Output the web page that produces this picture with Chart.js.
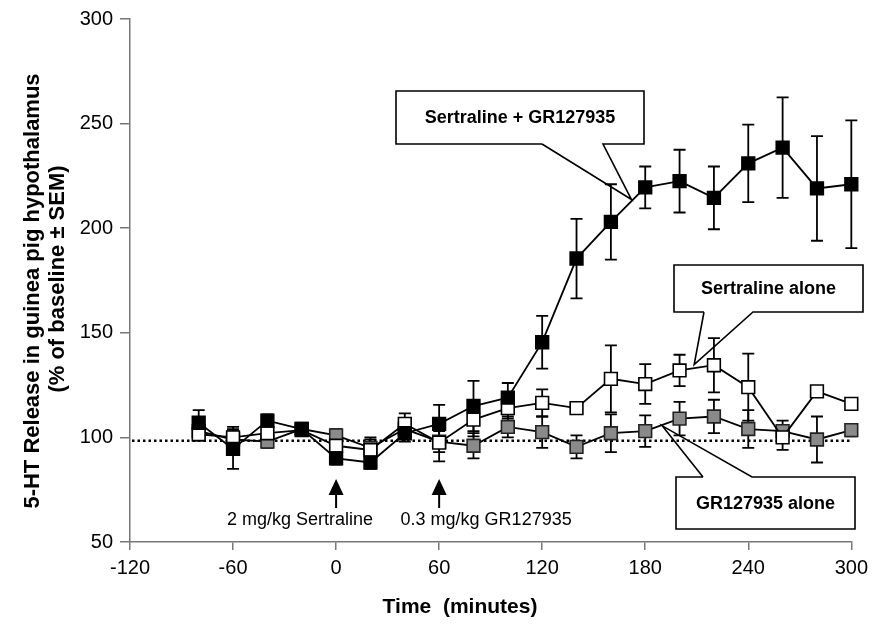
<!DOCTYPE html>
<html>
<head>
<meta charset="utf-8">
<script src="https://cdn.jsdelivr.net/npm/chart.js@4.4.0/dist/chart.umd.min.js"></script>
<style>
  html, body { margin: 0; padding: 0; background: #fff; }
</style>
</head>
<body>
<canvas id="releaseChart" width="874" height="629"></canvas>
<script>
const times = [-80, -60, -40, -20, 0, 20, 40, 60, 80, 100, 120, 140, 160, 180, 200, 220, 240, 260, 280, 300];

// Sertraline + GR127935
const comboMean = [107, 94.5, 108, 104, 90, 88, 102, 106.5, 115, 119, 145.5, 185.5, 203, 219.5, 222.5, 214.5, 231, 238.5, 219, 221];
const comboSem = [6, 9.5, 3, 2, 3, 3, 4, 9, 12, 7, 12.6, 19, 18, 10, 15, 15, 18.5, 24, 25, 30.5];

// Sertraline alone
const sertMean = [101.5, 100, 102, 103.5, 96, 94, 106.5, 97.5, 108.5, 114, 116.5, 114, 128, 125.5, 132, 134.5, 124, 100, 122, 116];
const sertSem = [3, 5, 3, 2, 3, 6, 5, 9, 8, 5, 6.5, 2, 16, 9.5, 7.5, 13, 16, 6, 2, 2];

// GR127935 alone
const grMean = [103, 99, 98, 104, 101, 95, 104, 98, 96, 105, 102.5, 95.5, 102, 103, 109, 110, 104, 103, 99, 103.5];
const grSem = [3, 4, 3, 2, 3, 4, 4, 5, 6, 5, 7.5, 5.5, 9, 7.5, 8, 8, 9, 5, 11, 3];

const xTicks = [-120, -60, 0, 60, 120, 180, 240, 300];
const yTicks = [50, 100, 150, 200, 250, 300];
const baseline = 98.4;

const toPoints = (means, sems) => times.map((t, i) => ({ x: t, y: means[i], sem: sems[i] }));

// callout boxes: box corners, base of the pointer on the box edge, and the point it aims at (data units)
const callouts = [
  { text: 'Sertraline + GR127935', box: [396, 91, 644, 144], base: [[542, 144], [603, 144]], tip: { x: 172, y: 213.7 } },
  { text: 'Sertraline alone', box: [674, 265, 863, 312], base: [[704, 312], [753, 312]], tip: { x: 208.5, y: 134.8 } },
  { text: 'GR127935 alone', box: [676, 477, 855, 529], base: [[703, 477], [752, 477]], tip: { x: 190, y: 105.5 } }
];

const doses = [
  { time: 0, label: '2 mg/kg Sertraline', dx: -36 },
  { time: 60, label: '0.3 mg/kg GR127935', dx: 47 }
];

const errorBars = {
  id: 'errorBars',
  beforeDatasetsDraw(chart) {
    const { ctx, chartArea } = chart;
    const xs = chart.scales.x, ys = chart.scales.y;

    // baseline
    ctx.save();
    ctx.strokeStyle = '#000';
    ctx.lineWidth = 2.5;
    ctx.setLineDash([2.5, 3]);
    ctx.beginPath();
    ctx.moveTo(chartArea.left + 2, ys.getPixelForValue(baseline));
    ctx.lineTo(chartArea.right, ys.getPixelForValue(baseline));
    ctx.stroke();
    ctx.restore();

    ctx.save();
    ctx.strokeStyle = '#000';
    ctx.lineWidth = 1.8;
    for (let d = chart.data.datasets.length - 1; d >= 0; d--) {
      chart.data.datasets[d].data.forEach(p => {
        const x = xs.getPixelForValue(p.x);
        const top = ys.getPixelForValue(p.y + p.sem);
        const bot = ys.getPixelForValue(p.y - p.sem);
        ctx.beginPath();
        ctx.moveTo(x, top); ctx.lineTo(x, bot);
        ctx.moveTo(x - 6, top); ctx.lineTo(x + 6, top);
        ctx.moveTo(x - 6, bot); ctx.lineTo(x + 6, bot);
        ctx.stroke();
      });
    }
    ctx.restore();
  },
  afterDraw(chart) {
    const { ctx } = chart;
    const xs = chart.scales.x, ys = chart.scales.y;
    ctx.save();

    // callouts
    ctx.lineWidth = 1.6;
    ctx.strokeStyle = '#000';
    callouts.forEach(c => {
      const [l, t, r, b] = c.box;
      const tx = xs.getPixelForValue(c.tip.x), ty = ys.getPixelForValue(c.tip.y);
      ctx.fillStyle = '#fff';
      ctx.fillRect(l, t, r - l, b - t);
      const [b1, b2] = c.base;
      ctx.beginPath();
      if (b1[1] === b) {
        ctx.moveTo(b1[0], b); ctx.lineTo(l, b); ctx.lineTo(l, t); ctx.lineTo(r, t);
        ctx.lineTo(r, b); ctx.lineTo(b2[0], b);
      } else {
        ctx.moveTo(b1[0], t); ctx.lineTo(l, t); ctx.lineTo(l, b); ctx.lineTo(r, b);
        ctx.lineTo(r, t); ctx.lineTo(b2[0], t);
      }
      ctx.lineTo(tx, ty);
      ctx.lineTo(b1[0], b1[1]);
      ctx.stroke();
      ctx.fillStyle = '#000';
      ctx.font = 'bold 18px "Liberation Sans", Arial, sans-serif';
      ctx.textAlign = 'center';
      ctx.textBaseline = 'middle';
      ctx.fillText(c.text, (l + r) / 2, (t + b) / 2 + 1);
    });

    // dosing arrows
    ctx.fillStyle = '#000';
    ctx.lineWidth = 2;
    doses.forEach(d => {
      const x = xs.getPixelForValue(d.time);
      ctx.beginPath();
      ctx.moveTo(x, 479); ctx.lineTo(x + 7.5, 495); ctx.lineTo(x - 7.5, 495); ctx.closePath();
      ctx.fill();
      ctx.beginPath();
      ctx.moveTo(x, 494); ctx.lineTo(x, 508);
      ctx.stroke();
      ctx.font = '18px "Liberation Sans", Arial, sans-serif';
      ctx.textAlign = 'center';
      ctx.textBaseline = 'middle';
      ctx.fillText(d.label, x + d.dx, 520);
    });

    // axis titles
    ctx.font = 'bold 21px "Liberation Sans", Arial, sans-serif';
    ctx.textAlign = 'center';
    ctx.textBaseline = 'middle';
    ctx.fillText('Time  (minutes)', 460, 607);

    ctx.font = 'bold 22px "Liberation Sans", Arial, sans-serif';
    ctx.translate(33, 0);
    ctx.rotate(-Math.PI / 2);
    ctx.fillText('5-HT Release in guinea pig hypothalamus', -291, 0);
    ctx.fillText('(% of baseline ± SEM)', -279, 25);
    ctx.restore();
  }
};

const square = (fill, border) => ({
  showLine: true,
  clip: false,
  borderColor: '#000',
  borderWidth: 1.8,
  pointStyle: 'rect',
  pointRadius: 9,
  pointHoverRadius: 9,
  pointBackgroundColor: fill,
  pointBorderColor: border,
  pointBorderWidth: 1.6
});

new Chart(document.getElementById('releaseChart').getContext('2d'), {
  type: 'scatter',
  data: {
    datasets: [
      { label: 'Sertraline + GR127935', data: toPoints(comboMean, comboSem), ...square('#000', '#000') },
      { label: 'Sertraline alone', data: toPoints(sertMean, sertSem), ...square('#fff', '#000') },
      { label: 'GR127935 alone', data: toPoints(grMean, grSem), ...square('#8a8a8a', '#222') }
    ]
  },
  options: {
    responsive: false,
    animation: false,
    layout: { padding: { top: 15, right: 22, left: 0, bottom: 0 } },
    plugins: { legend: { display: false }, tooltip: { enabled: false } },
    scales: {
      x: {
        type: 'linear',
        min: -120,
        max: 300,
        afterBuildTicks: s => { s.ticks = xTicks.map(v => ({ value: v })); },
        afterFit: s => { s.height = 87; },
        grid: { drawOnChartArea: false, drawTicks: true, tickLength: 8, color: '#777', lineWidth: 1.5 },
        border: { color: '#777', width: 1.5 },
        ticks: { color: '#000', padding: 6, font: { family: '"Liberation Sans", Arial, sans-serif', size: 20 } }
      },
      y: {
        min: 50,
        max: 300,
        afterBuildTicks: s => { s.ticks = yTicks.map(v => ({ value: v })); },
        afterFit: s => { s.width = 130; },
        grid: { drawOnChartArea: false, drawTicks: true, tickLength: 10, color: '#777', lineWidth: 1.5 },
        border: { color: '#777', width: 1.5 },
        ticks: { color: '#000', padding: 7, font: { family: '"Liberation Sans", Arial, sans-serif', size: 20 } }
      }
    }
  },
  plugins: [errorBars]
});
</script>
</body>
</html>
